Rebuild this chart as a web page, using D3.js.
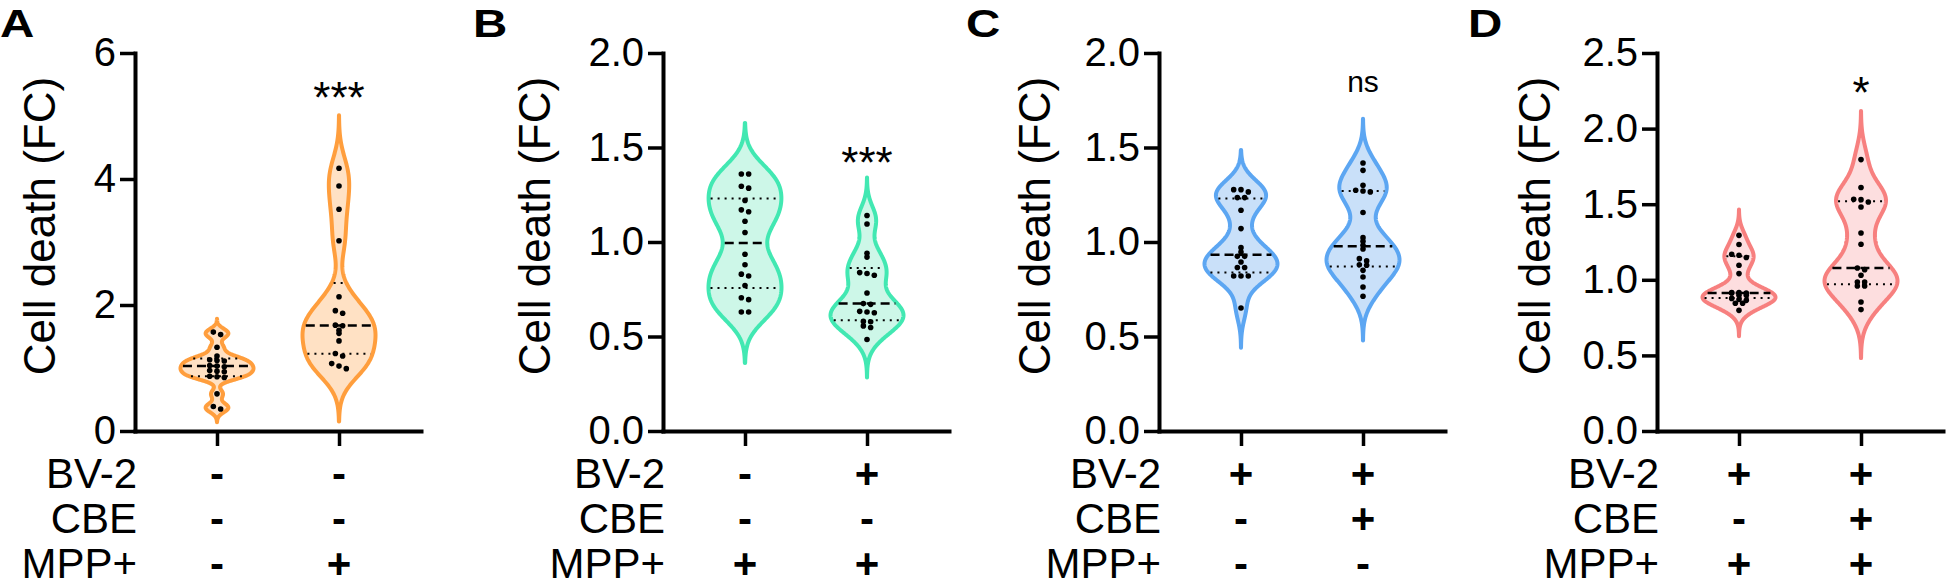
<!DOCTYPE html>
<html>
<head>
<meta charset="utf-8">
<script src="https://cdn.jsdelivr.net/npm/d3@7"></script>
<style>
  body { margin: 0; background: #fff; }
  svg { display: block; font-family: "Liberation Sans", Arial, sans-serif; }
</style>
</head>
<body>
<svg id="chart" width="1946" height="588"></svg>
<script>
// --- values ---
const panelNames = ["A", "B", "C", "D"];
const yMaxes = [6, 2, 2, 2.5];
const yTickValues = [[0, 2, 4, 6], [0, 0.5, 1, 1.5, 2], [0, 0.5, 1, 1.5, 2], [0, 0.5, 1, 1.5, 2, 2.5]];

// cell death (fold change), left / right violin of each panel
const groupA1 = [1.57, 1.53, 1.33, 1.19, 1.13, 1.12, 1.11, 1.04, 1.03, 1.02, 0.96, 0.95, 0.94, 0.87, 0.86, 0.85, 0.59, 0.39, 0.35];
const groupA2 = [4.17, 3.89, 3.52, 3.02, 2.13, 1.91, 1.87, 1.68, 1.67, 1.60, 1.55, 1.43, 1.23, 1.19, 1.07, 1.03, 0.99];
const groupB1 = [1.36, 1.36, 1.295, 1.285, 1.22, 1.17, 1.16, 1.11, 1.05, 0.935, 0.88, 0.83, 0.82, 0.77, 0.705, 0.695, 0.63, 0.63];
const groupB2 = [1.14, 1.095, 0.94, 0.92, 0.838, 0.833, 0.824, 0.73, 0.674, 0.67, 0.633, 0.63, 0.626, 0.58, 0.578, 0.556, 0.548, 0.484];
const groupC1 = [1.277, 1.277, 1.265, 1.235, 1.235, 1.168, 1.071, 0.970, 0.947, 0.924, 0.924, 0.894, 0.865, 0.865, 0.82, 0.82, 0.82, 0.651];
const groupC2 = [1.418, 1.379, 1.30, 1.274, 1.27, 1.265, 1.156, 1.023, 1.004, 0.983, 0.963, 0.912, 0.90, 0.88, 0.877, 0.85, 0.815, 0.762, 0.713];
const groupD1 = [1.294, 1.233, 1.169, 1.162, 1.147, 1.096, 1.041, 0.915, 0.915, 0.913, 0.913, 0.897, 0.897, 0.877, 0.870, 0.864, 0.845, 0.845, 0.798];
const groupD2 = [1.795, 1.61, 1.532, 1.53, 1.515, 1.481, 1.31, 1.235, 1.078, 1.067, 1.03, 0.985, 0.985, 0.959, 0.959, 0.853, 0.803];

// median and quartile lines as drawn
const medians = [[1.03, 1.673], [0.995, 0.674], [0.933, 0.977], [0.913, 1.078]];
const lowerQuartiles = [[0.87, 1.228], [0.757, 0.586], [0.838, 0.871], [0.88, 0.97]];
const upperQuartiles = [[1.15, 2.35], [1.23, 0.862], [1.23, 1.27], [1.155, 1.519]];
// kernel bandwidth of each violin
const bandwidths = [[0.07, 0.28], [0.09, 0.067], [0.07, 0.078], [0.057, 0.107]];

const sigLabels = ["***", "***", "ns", "*"];
const sigValues = [5.04, 1.336, 1.794, 2.137];

const rowNames = ["BV-2", "CBE", "MPP+"];
const treatments = [
  [["-", "-"], ["-", "-"], ["-", "+"]],
  [["-", "+"], ["-", "-"], ["+", "+"]],
  [["+", "+"], ["-", "+"], ["-", "-"]],
  [["+", "+"], ["-", "+"], ["+", "+"]]
];

const groups = [[groupA1, groupA2], [groupB1, groupB2], [groupC1, groupC2], [groupD1, groupD2]];

// --- layout ---
const strokeColors = ["#ff9e3d", "#42e8b2", "#5ca6f2", "#f7807f"];
const fillColors = ["#ffe1c4", "#cdf7e8", "#c9e0f9", "#fddedf"];
const axisXs = [135, 663, 1159, 1657];
const titleXs = [55, 550, 1050, 1550];
const letterXs = [0, 473, 966, 1468];
const plotTop = 53, plotBottom = 431, plotW = 286;
const rowYs = [488, 533, 578];
const halfW = 36.5;

const svg = d3.select("#chart");

function swarm(values, y) {
  const sorted = values.slice().sort((a, b) => b - a);
  const clusters = [];
  sorted.forEach(v => {
    const c = clusters[clusters.length - 1];
    if (c && Math.abs(y(v) - y(c[c.length - 1])) < 3) c.push(v);
    else clusters.push([v]);
  });
  const out = [];
  clusters.forEach(c => {
    c.forEach((v, i) => {
      const start = Math.floor(i / 3) * 3;
      const count = Math.min(3, c.length - start);
      out.push({ v, dx: (i - start - (count - 1) / 2) * 7.3 });
    });
  });
  return out;
}

panelNames.forEach((name, p) => {
  const ax = axisXs[p];
  const y = d3.scaleLinear().domain([0, yMaxes[p]]).range([plotBottom, plotTop]);
  const x = d3.scalePoint().domain([0, 1]).range([ax, ax + plotW]).padding(0.672);
  const g = svg.append("g");

  // y axis
  const yAxis = g.append("g")
    .attr("transform", `translate(${ax},0)`)
    .call(d3.axisLeft(y).tickValues(yTickValues[p]).tickSize(15).tickSizeOuter(0).tickPadding(4)
      .tickFormat(p === 0 ? d3.format("d") : d3.format(".1f")));
  yAxis.select(".domain").attr("stroke-width", 4).attr("stroke-linecap", "square");
  yAxis.selectAll(".tick line").attr("stroke-width", 3.5);
  yAxis.selectAll(".tick text").attr("font-size", 40).attr("font-family", "Liberation Sans, Arial, sans-serif").attr("fill", "#000");

  // x axis
  const xAxis = g.append("g")
    .attr("transform", `translate(0,${plotBottom})`)
    .call(d3.axisBottom(x).tickSize(15).tickSizeOuter(0).tickFormat(""));
  xAxis.select(".domain").attr("stroke-width", 4).attr("stroke-linecap", "square");
  xAxis.selectAll(".tick line").attr("stroke-width", 3.5);

  // axis title
  g.append("text")
    .attr("transform", `translate(${titleXs[p]},226) rotate(-90)`)
    .attr("text-anchor", "middle")
    .attr("font-size", 44)
    .text("Cell death (FC)");

  // panel letter
  g.append("text")
    .attr("transform", `translate(${letterXs[p]},37) scale(1.25,1)`)
    .attr("font-size", 38)
    .attr("font-weight", "bold")
    .text(name);

  groups[p].forEach((vals, k) => {
    const cx = x(k);
    const h = bandwidths[p][k];
    const dens = v => d3.sum(vals, d => Math.exp(-0.5 * ((v - d) / h) ** 2));
    const lo = d3.min(vals) - 3 * h, hi = d3.max(vals) + 3 * h;
    const samples = d3.range(301).map(i => lo + (hi - lo) * i / 300);
    const maxD = d3.max(samples, dens);
    const w = d3.scaleLinear().domain([0, maxD]).range([0, halfW]);

    const area = d3.area()
      .y(v => y(v))
      .x0(v => cx - w(dens(v)))
      .x1(v => cx + w(dens(v)));

    g.append("path")
      .attr("d", area(samples))
      .attr("fill", fillColors[p])
      .attr("stroke", strokeColors[p])
      .attr("stroke-width", 4)
      .attr("stroke-linejoin", "round");

    const hline = (v, dash, sw) => {
      const hw = w(dens(v)) - 2;
      g.append("line")
        .attr("x1", cx - hw).attr("x2", cx + hw)
        .attr("y1", y(v)).attr("y2", y(v))
        .attr("stroke", "#000")
        .attr("stroke-width", sw)
        .attr("stroke-dasharray", dash);
    };
    hline(lowerQuartiles[p][k], "2 5", 2);
    hline(upperQuartiles[p][k], "2 5", 2);
    hline(medians[p][k], "9 5", 2.5);

    g.append("g")
      .selectAll("circle")
      .data(swarm(vals, y))
      .join("circle")
        .attr("cx", d => cx + d.dx)
        .attr("cy", d => y(d.v))
        .attr("r", 2.8)
        .attr("fill", "#000");
  });

  // significance label over the right violin
  g.append("text")
    .attr("x", x(1))
    .attr("y", y(sigValues[p]))
    .attr("text-anchor", "middle")
    .attr("font-size", sigLabels[p] === "ns" ? 30 : 44)
    .text(sigLabels[p]);

  // treatment table
  rowNames.forEach((r, i) => {
    g.append("text")
      .attr("x", ax + 2)
      .attr("y", rowYs[i])
      .attr("text-anchor", "end")
      .attr("font-size", 42)
      .text(r);
    treatments[p][i].forEach((s, k) => {
      g.append("text")
        .attr("x", x(k))
        .attr("y", rowYs[i])
        .attr("text-anchor", "middle")
        .attr("font-size", 42)
        .attr("font-weight", "bold")
        .text(s);
    });
  });
});
</script>
</body>
</html>
